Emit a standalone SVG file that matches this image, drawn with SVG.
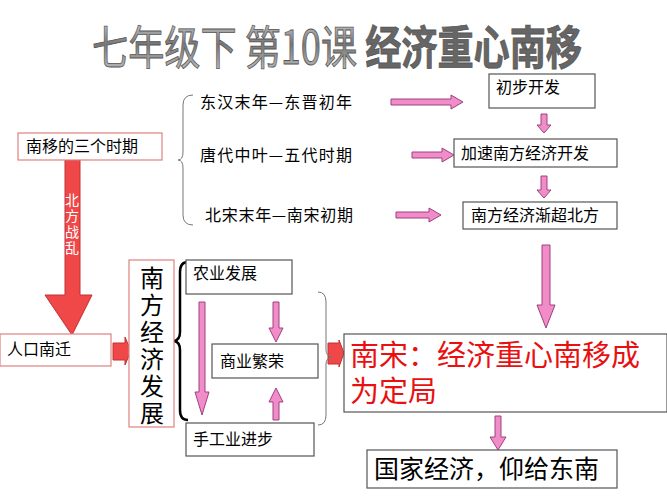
<svg xmlns="http://www.w3.org/2000/svg" width="667" height="500" viewBox="0 0 667 500">
<style>
text{font-family:"Noto Sans CJK SC","Liberation Sans",sans-serif;fill:#000}
.box{fill:#fff;stroke:#555;stroke-width:1.2}
.pk{fill:#f08cc8;stroke:#a04080;stroke-width:1}
.rd{fill:#f04848;stroke:#c03030;stroke-width:1}
.br{fill:none;stroke:#000;stroke-width:2.5}
.br2{fill:none;stroke:#777;stroke-width:1}
.t{font-size:16px}
</style>
<defs>
<linearGradient id="g" x1="0" y1="0" x2="0" y2="1">
<stop offset="0" stop-color="#eee"/><stop offset="0.5" stop-color="#777"/><stop offset="1" stop-color="#ccc"/>
</linearGradient>
</defs>
<rect width="667" height="500" fill="#fff"/>
<g id="title">
<text x="92" y="64" font-size="46" textLength="490" lengthAdjust="spacingAndGlyphs" style="fill:url(#g);stroke:#555;stroke-width:0.8">七年级下 第10课 <tspan font-weight="bold" style="fill:#666">经济重心南移</tspan></text>
</g>
<g id="connectors">
<path class="pk" d="M391,99 H451 V95 L463,102 L451,109 V105 H391 Z"/>
<path class="pk" d="M412,152 H442 V148 L454,155 L442,162 V158 H412 Z"/>
<path class="pk" d="M396,212 H429 V208 L441,215 L429,222 V218 H396 Z"/>
<path class="pk" d="M541,114 H547 V125 H551 L544,133 L537,125 H541 Z"/>
<path class="pk" d="M541,176 H547 V190 H551 L544,198 L537,190 H541 Z"/>
<path class="pk" d="M542,245 H550 V305 H555 L546,328 L537,305 H542 Z"/>
<path class="pk" d="M495,416 H501 V437 H506 L498,450 L490,437 H495 Z"/>
<path class="rd" d="M65,160 H80 V295 H92 L72,335 L45,295 H65 Z"/>
<path class="rd" d="M113,343 H125 V337 L131,351 L125,365 V360 H113 Z"/>
<path class="rd" d="M328,343 H339 V340 L344,353 L339,367 V364 H328 Z"/>
<path class="pk" d="M199,302 H205 V392 H209 L202,415 L195,392 H199 Z"/>
<path class="pk" d="M273,302 H279 V328 H283 L276,342 L269,328 H273 Z"/>
<path class="pk" d="M273,420 H279 V402 H283 L276,388 L269,402 H273 Z"/>
<path class="br" d="M188,262 Q180,262 180,272 V332 Q180,340 174,341 Q180,342 180,350 V410 Q180,420 188,420"/>
<path class="br2" d="M193,95 Q183,95 183,105 V152 Q183,160 178,160 Q183,160 183,168 V215 Q183,225 193,225"/>
<path class="br2" d="M318,292 Q326,292 326,302 V350 Q326,356 332,357 Q326,358 326,364 V415 Q326,425 318,425"/>
</g>
<g id="labels3">
<text class="t" x="200" y="108" textLength="152">东汉末年—东晋初年</text>
<text class="t" x="200" y="161" textLength="152">唐代中叶—五代时期</text>
<text class="t" x="205" y="221" textLength="148">北宋末年—南宋初期</text>
</g>
<g id="n-periods"><rect class="box" x="18" y="133" width="144" height="27" style="stroke:#e08080"/><text class="t" x="26" y="152">南移的三个时期</text></g>
<g id="n-war"><text font-size="14" x="65" y="205" style="fill:#fff">北</text><text font-size="14" x="65" y="221" style="fill:#fff">方</text><text font-size="14" x="65" y="237" style="fill:#fff">战</text><text font-size="14" x="65" y="253" style="fill:#fff">乱</text></g>
<g id="n-chubu"><rect class="box" x="489" y="74" width="106" height="34"/><text class="t" x="496" y="93">初步开发</text></g>
<g id="n-jiasu"><rect class="box" x="454" y="139" width="163" height="28"/><text class="t" x="461" y="159">加速南方经济开发</text></g>
<g id="n-jianchao"><rect class="box" x="463" y="202" width="154" height="27"/><text class="t" x="471" y="221">南方经济渐超北方</text></g>
<g id="n-renkou"><rect class="box" x="0" y="334" width="111" height="32" style="stroke:#e08080"/><text class="t" x="7" y="355">人口南迁</text></g>
<g id="n-nanfang"><rect class="box" x="129" y="260" width="45" height="167" style="stroke:#e08080"/>
<g font-size="24" text-anchor="middle"><text x="152" y="287">南</text><text x="152" y="314">方</text><text x="152" y="341">经</text><text x="152" y="368">济</text><text x="152" y="395">发</text><text x="152" y="422">展</text></g></g>
<g id="n-nongye"><rect class="box" x="186" y="260" width="106" height="34"/><text class="t" x="193" y="279">农业发展</text></g>
<g id="n-shangye"><rect class="box" x="212" y="344" width="106" height="34"/><text class="t" x="220" y="367">商业繁荣</text></g>
<g id="n-shougong"><rect class="box" x="186" y="423" width="128" height="33"/><text class="t" x="193" y="445">手工业进步</text></g>
<g id="n-nansong"><rect class="box" x="344" y="334" width="323" height="78"/><text font-size="29" x="350" y="366" style="fill:#e81010">南宋：经济重心南移成</text><text font-size="29" x="350" y="402" style="fill:#e81010">为定局</text></g>
<g id="n-guojia"><rect class="box" x="367" y="450" width="250" height="38"/><text font-size="25" x="374" y="478">国家经济，仰给东南</text></g>
</svg>
